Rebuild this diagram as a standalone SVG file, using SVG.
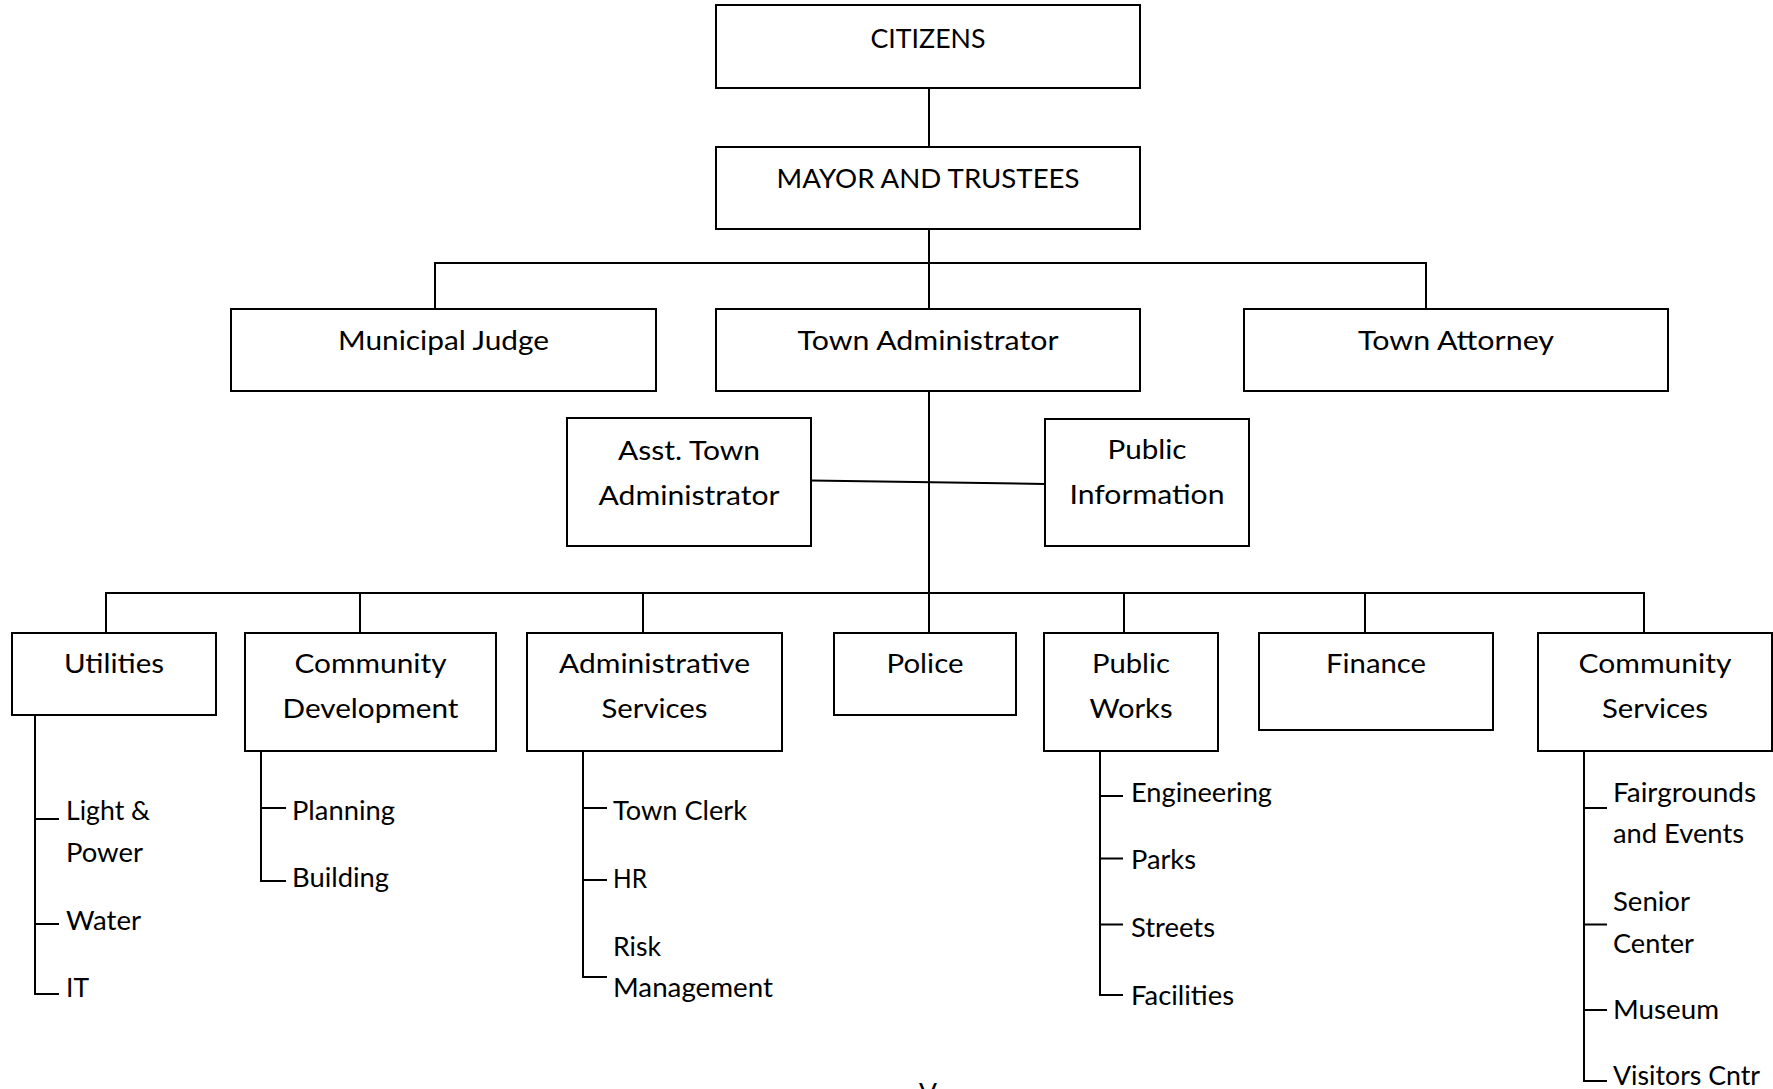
<svg xmlns="http://www.w3.org/2000/svg" width="1773" height="1089" viewBox="0 0 1773 1089">
<style>
.box{fill:#fff;stroke:#000;stroke-width:2}
.ln{fill:none;stroke:#000;stroke-width:2}
text{font-family:Lato,"Liberation Sans",sans-serif;font-size:26.5px;fill:#000}
.c{text-anchor:middle}
</style>
<rect width="1773" height="1089" fill="#fff"/>
<g id="connectors" class="ln">
<path d="M929,88 V147"/>
<path d="M929,229 V309"/>
<path d="M435,309 V263 H1426 V309"/>
<path d="M929,391 V633"/>
<path d="M811,480.5 L1045,484"/>
<path d="M106,633 V593 H1644 V633"/>
<path d="M360,593 V633 M643,593 V633 M1124,593 V633 M1365,593 V633"/>
<path d="M35,715 V994 H59 M35,819 H59 M35,924 H59"/>
<path d="M261,751 V881 H286 M261,808 H286"/>
<path d="M583,751 V977 H607 M583,808 H607 M583,880 H607"/>
<path d="M1100,751 V995 H1123 M1100,796 H1123 M1100,858.5 H1123 M1100,924.5 H1123"/>
<path d="M1584,747 V1081 H1607 M1584,808 H1607 M1584,924.5 H1607 M1584,1010 H1607"/>
</g>
<g id="citizens"><rect class="box" x="716" y="5" width="424" height="83"/><text class="c" x="928" y="48" textLength="115" lengthAdjust="spacingAndGlyphs">CITIZENS</text></g>
<g id="mayor"><rect class="box" x="716" y="147" width="424" height="82"/><text class="c" x="928" y="188" textLength="303" lengthAdjust="spacingAndGlyphs">MAYOR AND TRUSTEES</text></g>
<g id="judge"><rect class="box" x="231" y="309" width="425" height="82"/><text class="c" x="443.5" y="350" textLength="211" lengthAdjust="spacingAndGlyphs">Municipal Judge</text></g>
<g id="town-admin"><rect class="box" x="716" y="309" width="424" height="82"/><text class="c" x="928" y="350" textLength="261" lengthAdjust="spacingAndGlyphs">Town Administrator</text></g>
<g id="attorney"><rect class="box" x="1244" y="309" width="424" height="82"/><text class="c" x="1456" y="350" textLength="196" lengthAdjust="spacingAndGlyphs">Town Attorney</text></g>
<g id="asst-admin"><rect class="box" x="567" y="418" width="244" height="128"/><text class="c" x="689" y="460" textLength="142" lengthAdjust="spacingAndGlyphs">Asst. Town</text><text class="c" x="689" y="505" textLength="181" lengthAdjust="spacingAndGlyphs">Administrator</text></g>
<g id="public-info"><rect class="box" x="1045" y="419" width="204" height="127"/><text class="c" x="1147" y="459" textLength="79" lengthAdjust="spacingAndGlyphs">Public</text><text class="c" x="1147" y="504" textLength="155" lengthAdjust="spacingAndGlyphs">Information</text></g>
<g id="utilities"><rect class="box" x="12" y="633" width="204" height="82"/><text class="c" x="114" y="673" textLength="100" lengthAdjust="spacingAndGlyphs">Utilities</text>
<text x="66" y="820" textLength="84" lengthAdjust="spacingAndGlyphs">Light &amp;</text><text x="66" y="862" textLength="77" lengthAdjust="spacingAndGlyphs">Power</text><text x="66" y="930" textLength="75" lengthAdjust="spacingAndGlyphs">Water</text><text x="66" y="997" textLength="23" lengthAdjust="spacingAndGlyphs">IT</text></g>
<g id="community-dev"><rect class="box" x="245" y="633" width="251" height="118"/><text class="c" x="370.5" y="673" textLength="152" lengthAdjust="spacingAndGlyphs">Community</text><text class="c" x="370.5" y="718" textLength="176" lengthAdjust="spacingAndGlyphs">Development</text>
<text x="292" y="820" textLength="103" lengthAdjust="spacingAndGlyphs">Planning</text><text x="292" y="887" textLength="97" lengthAdjust="spacingAndGlyphs">Building</text></g>
<g id="admin-services"><rect class="box" x="527" y="633" width="255" height="118"/><text class="c" x="654.5" y="673" textLength="191" lengthAdjust="spacingAndGlyphs">Administrative</text><text class="c" x="654.5" y="718" textLength="106" lengthAdjust="spacingAndGlyphs">Services</text>
<text x="613" y="820" textLength="134" lengthAdjust="spacingAndGlyphs">Town Clerk</text><text x="613" y="888" textLength="34" lengthAdjust="spacingAndGlyphs">HR</text><text x="613" y="956" textLength="48" lengthAdjust="spacingAndGlyphs">Risk</text><text x="613" y="997" textLength="160" lengthAdjust="spacingAndGlyphs">Management</text></g>
<g id="police"><rect class="box" x="834" y="633" width="182" height="82"/><text class="c" x="925" y="673" textLength="77" lengthAdjust="spacingAndGlyphs">Police</text></g>
<g id="public-works"><rect class="box" x="1044" y="633" width="174" height="118"/><text class="c" x="1131" y="673" textLength="78" lengthAdjust="spacingAndGlyphs">Public</text><text class="c" x="1131" y="718" textLength="83" lengthAdjust="spacingAndGlyphs">Works</text>
<text x="1131" y="802" textLength="141" lengthAdjust="spacingAndGlyphs">Engineering</text><text x="1131" y="869" textLength="65" lengthAdjust="spacingAndGlyphs">Parks</text><text x="1131" y="937" textLength="84" lengthAdjust="spacingAndGlyphs">Streets</text><text x="1131" y="1005" textLength="103" lengthAdjust="spacingAndGlyphs">Facilities</text></g>
<g id="finance"><rect class="box" x="1259" y="633" width="234" height="97"/><text class="c" x="1376" y="673" textLength="100" lengthAdjust="spacingAndGlyphs">Finance</text></g>
<g id="community-services"><rect class="box" x="1538" y="633" width="234" height="118"/><text class="c" x="1655" y="673" textLength="153" lengthAdjust="spacingAndGlyphs">Community</text><text class="c" x="1655" y="718" textLength="106" lengthAdjust="spacingAndGlyphs">Services</text>
<text x="1613" y="802" textLength="143" lengthAdjust="spacingAndGlyphs">Fairgrounds</text><text x="1613" y="843" textLength="131" lengthAdjust="spacingAndGlyphs">and Events</text><text x="1613" y="911" textLength="77" lengthAdjust="spacingAndGlyphs">Senior</text><text x="1613" y="953" textLength="81" lengthAdjust="spacingAndGlyphs">Center</text><text x="1613" y="1019" textLength="106" lengthAdjust="spacingAndGlyphs">Museum</text><text x="1613" y="1085" textLength="147" lengthAdjust="spacingAndGlyphs">Visitors Cntr</text></g>
<text class="c" x="928" y="1102">V</text>
</svg>
